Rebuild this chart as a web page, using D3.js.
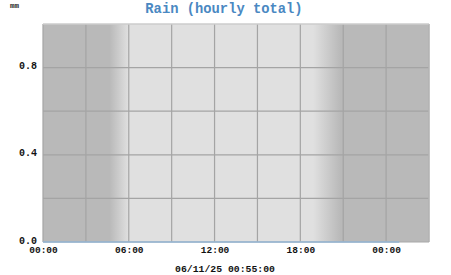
<!DOCTYPE html>
<html>
<head>
<meta charset="utf-8">
<script src="https://cdn.jsdelivr.net/npm/d3@7"></script>
<style>
  body { margin: 0; background: #fff; }
  text { font-family: "Liberation Mono", "DejaVu Sans Mono", monospace; }
</style>
</head>
<body>
<script>
// chart data
var title = "Rain (hourly total)";
var unitLabel = "mm";
var footerLabel = "06/11/25 00:55:00";
var startTime = new Date(2025, 5, 10, 0, 0);
var endTime = new Date(2025, 5, 11, 3, 0);
// hourly rain totals, 00:00 through 01:00 next day
var rainHours = [0,1,2,3,4,5,6,7,8,9,10,11,12,13,14,15,16,17,18,19,20,21,22,23,24,24.92];
var rainValues = [0,0,0,0,0,0,0,0,0,0,0,0,0,0,0,0,0,0,0,0,0,0,0,0,0,0];
var yTicks = [0, 0.4, 0.8];
// daylight: sunrise fades in, sunset fades out (hours from start)
var sunriseHours = [4.65, 6.0];
var sunsetHours = [18.9, 20.8];

var width = 451, height = 275;
var margin = {top: 24, right: 22, bottom: 33, left: 43};
var w = width - margin.left - margin.right,
    h = height - margin.top - margin.bottom;

function hourDate(hh) { return new Date(startTime.getTime() + hh * 3600000); }

var x = d3.scaleTime().domain([startTime, endTime]).range([0, w]);
var y = d3.scaleLinear().domain([0, 1.0]).range([h, 0]);

var svg = d3.select("body").append("svg")
    .attr("width", width)
    .attr("height", height);

// day / night background gradient
var nightCol = "#b9b9b9", dayCol = "#e0e0e0";
var grad = svg.append("defs").append("linearGradient")
    .attr("id", "daynight")
    .attr("gradientUnits", "userSpaceOnUse")
    .attr("x1", 0).attr("x2", w).attr("y1", 0).attr("y2", 0);
var stops = [
  [sunriseHours[0], nightCol], [sunriseHours[1], dayCol],
  [sunsetHours[0], dayCol], [sunsetHours[1], nightCol]
];
stops.forEach(function(s) {
  grad.append("stop")
      .attr("offset", x(hourDate(s[0])) / w)
      .attr("stop-color", s[1]);
});

var g = svg.append("g")
    .attr("transform", "translate(" + margin.left + "," + margin.top + ")");

g.append("rect")
    .attr("width", w).attr("height", h)
    .attr("fill", "url(#daynight)");

// grid
var gridX = d3.timeHour.every(3).range(startTime, new Date(endTime.getTime() + 1));
g.selectAll(".vgrid").data(gridX).enter().append("line")
    .attr("x1", function(d) { return x(d); })
    .attr("x2", function(d) { return x(d); })
    .attr("y1", 0).attr("y2", h)
    .attr("stroke", "#a4a4a4").attr("stroke-width", 1.2);

var gridY = [0.2, 0.4, 0.6, 0.8];
g.selectAll(".hgrid").data(gridY).enter().append("line")
    .attr("x1", 0).attr("x2", w)
    .attr("y1", function(d) { return y(d); })
    .attr("y2", function(d) { return y(d); })
    .attr("stroke", "#a4a4a4").attr("stroke-width", 1.2);

// frame
g.append("line").attr("x1", 0).attr("x2", w).attr("y1", 0).attr("y2", 0)
    .attr("stroke", "#cccccc").attr("stroke-width", 1.5);
g.append("line").attr("x1", w).attr("x2", w).attr("y1", 0).attr("y2", h)
    .attr("stroke", "#bdbdbd").attr("stroke-width", 1);
g.append("line").attr("x1", 0).attr("x2", w).attr("y1", h).attr("y2", h)
    .attr("stroke", "#a8a8a8").attr("stroke-width", 1);

// rain line
var line = d3.line()
    .x(function(d, i) { return x(hourDate(rainHours[i])); })
    .y(function(d) { return y(d); });
g.append("path")
    .datum(rainValues)
    .attr("d", line)
    .attr("fill", "none")
    .attr("stroke", "#94b6d4")
    .attr("stroke-width", 1.5);

// y axis labels
var yAxis = d3.axisLeft(y).tickValues(yTicks).tickSize(0).tickPadding(6)
    .tickFormat(d3.format(".1f"));
var ya = g.append("g").call(yAxis);
ya.select(".domain").remove();
ya.selectAll("text")
    .attr("font-family", "'Liberation Mono', monospace")
    .attr("font-size", 10).attr("font-weight", "bold").attr("fill", "#111")
    .attr("dy", "0.1em");

// x axis labels
var xTicks = d3.timeHour.every(6).range(startTime, endTime);
var xAxis = d3.axisBottom(x).tickValues(xTicks).tickSize(0).tickPadding(4)
    .tickFormat(d3.timeFormat("%H:%M"));
var xa = g.append("g").attr("transform", "translate(0," + h + ")").call(xAxis);
xa.select(".domain").remove();
xa.selectAll("text")
    .attr("font-family", "'Liberation Mono', monospace")
    .attr("font-size", 9.5).attr("font-weight", "bold").attr("fill", "#111");

// title and labels
svg.append("text")
    .attr("x", 224).attr("y", 13)
    .attr("text-anchor", "middle")
    .attr("font-size", 13.8).attr("font-weight", "bold")
    .attr("fill", "#4a88c2")
    .text(title);

svg.append("text")
    .attr("x", 10).attr("y", 8)
    .attr("font-size", 7.5).attr("font-weight", "bold")
    .attr("fill", "#222")
    .text(unitLabel);

svg.append("text")
    .attr("x", 225).attr("y", 272)
    .attr("text-anchor", "middle")
    .attr("font-size", 9.8).attr("font-weight", "bold")
    .attr("fill", "#111")
    .text(footerLabel);
</script>
</body>
</html>
